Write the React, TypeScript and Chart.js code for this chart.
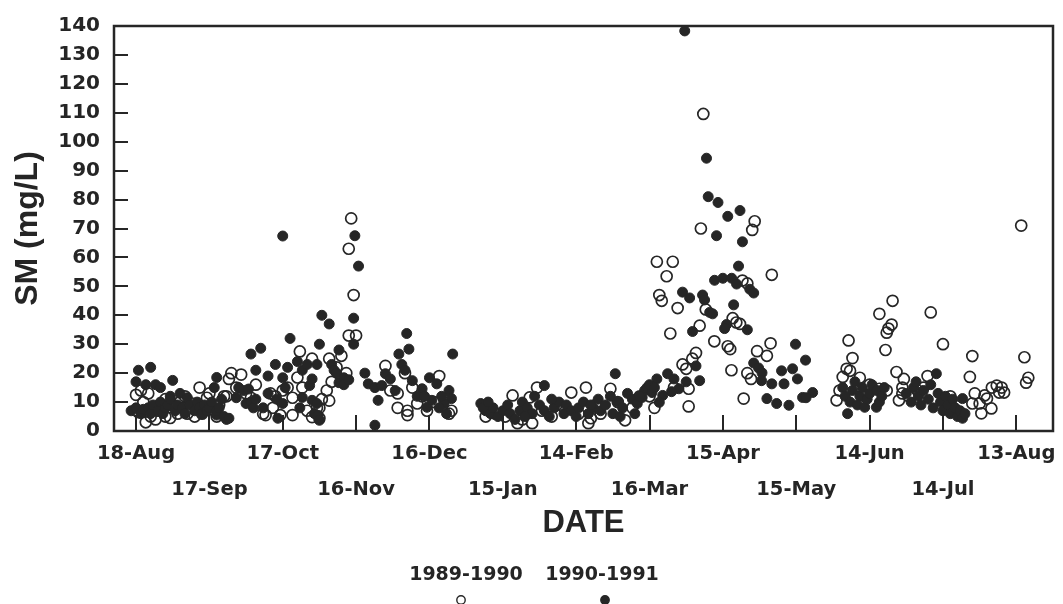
import React, { useEffect, useRef } from 'react';
import { Chart, registerables } from 'chart.js';

Chart.register(...registerables);

// X axis: days since 18-Aug, ticks every 30 days
const tickDays = [0, 30, 60, 90, 120, 150, 180, 210, 240, 270, 300, 330, 360];
const tickLabels = [
  '18-Aug', '17-Sep', '17-Oct', '16-Nov', '16-Dec', '15-Jan', '14-Feb',
  '16-Mar', '15-Apr', '15-May', '14-Jun', '14-Jul', '13-Aug',
];
const seriesLabels = ['1989-1990', '1990-1991'];

// [day, SM mg/L] — 1989-1990 (open circles)
const sm8990: [number, number][] = [
  [0, 12.5], [2, 14], [5, 13], [1, 6.5], [4, 3], [8, 4], [12, 5], [3, 10], [9, 7], [15, 9],
  [17, 6], [20, 12], [21, 6], [23, 9.5], [26, 15], [27, 6], [29, 11.5], [30, 13], [28, 8], [32, 7],
  [34, 9], [12, 11], [19, 8], [24, 5], [36, 12], [6, 5], [14, 4.5], [10, 9], [18, 10], [33, 5],
  [39, 20], [43, 19.5], [38, 18], [41, 15], [45, 13], [47, 11.5], [52, 6], [53, 5.5], [56, 8], [59, 5.5],
  [55, 13], [60, 14], [62, 15], [64, 11.5], [64, 5.5], [67, 27.5], [72, 25], [66, 18.5], [68, 15], [70, 7],
  [72, 4.8], [75, 4.4], [74, 8], [75, 8], [76, 11], [78, 14], [80, 17], [82, 22], [79, 25], [79, 10.5],
  [87, 33], [90, 33], [87, 63], [88, 73.5], [89, 47], [86, 20], [84, 26], [57, 12], [49, 16], [37, 12],
  [102, 22.5], [104, 14], [107, 13], [107, 8], [111, 7], [111, 5.5], [115, 9.5], [124, 19], [119, 7], [128, 6],
  [129, 7], [113, 15], [110, 20], [122, 10], [126, 11], [117, 12],
  [154, 12.3], [156, 2.7], [161, 11.6], [162, 2.7], [164, 15], [170, 5], [175, 8], [178, 13.3], [184, 15], [185, 2.7],
  [186, 4.4], [190, 6], [194, 14.6], [197, 10], [200, 3.7], [203, 8], [147, 6], [151, 5], [158, 4], [166, 7],
  [172, 9], [181, 6], [188, 9], [206, 12], [143, 5],
  [232, 109.6], [231, 70], [253, 72.5], [252, 69.5], [213, 58.5], [219.5, 58.5], [217, 53.5], [260, 54], [214, 47], [215, 45],
  [221.5, 42.5], [248, 52], [250, 51], [233, 42], [244, 39], [245.5, 37.5], [247, 37], [218.5, 33.7], [230.5, 36.4], [236.5, 31],
  [242, 29.3], [243, 28.3], [259.5, 30.3], [229, 27], [227.5, 25], [223.5, 23], [225, 21.5], [254, 27.6], [258, 26], [250, 20],
  [251.5, 18], [243.5, 21], [248.5, 11.2], [226, 14.6], [226, 8.5], [210, 12], [220, 15], [212, 8],
  [287.7, 14], [286.5, 10.6], [289, 18.7], [290.6, 21.5], [292, 20.8], [291.4, 31.3], [293, 25.2], [296, 18.4], [304, 14.6], [307, 14],
  [306.5, 28], [304, 40.5], [309.4, 45], [309, 36.8], [307.7, 35.4], [307, 34], [311, 20.4], [314, 18], [312, 10.6], [313.4, 15],
  [313.4, 13], [325, 41], [330, 30], [323.7, 19], [319.6, 14], [342, 25.9], [341, 18.7], [343, 13], [345, 9.5], [345.7, 6.1],
  [349.8, 7.8], [342, 9.5], [350, 15], [352, 15.7], [354, 15], [353, 13.3], [355, 13.3], [347, 12.3], [348, 11.2], [363.3, 25.5],
  [364.9, 18.4], [364, 16.7], [362, 71], [316, 12], [322, 15], [333, 12], [298, 12], [300, 16], [294, 12],
];

// [day, SM mg/L] — 1990-1991 (filled circles)
const sm9091: [number, number][] = [
  [1, 21], [6, 22], [0, 17], [4, 16], [8, 16], [10, 15], [15, 17.5], [14, 12], [18, 13], [21, 11.5],
  [33, 18.5], [32, 15], [37, 4], [33, 5.5], [-2, 7], [0, 8], [2, 6], [3, 7.5], [5, 8], [6, 6],
  [7, 9], [9, 7], [10, 10], [11, 6], [12, 8], [13, 9], [14, 11], [16, 7], [17, 9], [19, 8],
  [20, 6], [22, 9], [24, 7], [25, 10], [26, 8], [27, 6], [28, 9], [29, 7], [30, 8], [31, 10],
  [33, 7], [34, 8], [35, 11], [36, 5],
  [38, 4.4], [41, 11.5], [42, 15], [44, 14], [46, 14.5], [47, 26.6], [51, 28.6], [49, 21], [45, 9.5], [47, 10],
  [48, 8], [49, 11], [52, 8], [54, 13], [54, 19], [57, 23], [57.5, 11], [58, 4.4], [60, 18.4], [60, 9.5],
  [60, 67.4], [61, 15], [62, 22], [63, 32], [66, 24], [67, 8], [68, 11.6], [68, 21], [70, 23], [71, 15.7],
  [72, 18], [72, 10.6], [73, 6], [74, 23], [74, 9.5], [74.5, 5.4], [75, 3.7], [75, 30], [76, 40], [79, 37],
  [80, 23], [81, 21], [82, 20], [83, 28], [83, 16.7], [85, 18.4], [85, 16], [87, 17.7], [89, 30], [89, 39],
  [91, 57], [89.5, 67.5],
  [93.6, 20], [95, 16.3], [97.7, 15], [99, 10.6], [100.5, 15.7], [97.7, 2], [102, 19.8], [107.5, 26.6], [110.7, 33.7], [111.6, 28.3],
  [108.7, 23], [110, 21], [113, 17.4], [117, 14.6], [119, 8.2], [121, 10.6], [120, 18.4], [123, 16.3], [128, 14], [129, 11.2],
  [126, 9.5], [129.5, 26.6], [104, 18], [106, 14], [115, 12], [124, 8], [127, 6], [118, 12], [125, 12],
  [141, 9.5], [143, 7], [142, 8], [145, 6], [146, 8], [148, 5], [150, 7], [152, 9], [153, 6], [155, 4],
  [157, 7], [158, 10], [160, 8], [162, 6], [163, 12], [165, 9], [167, 15.7], [167, 7], [169, 5], [171, 8],
  [173, 10], [175, 6], [176, 9], [178, 7], [180, 5], [181, 8], [183, 10], [185, 6], [187, 8], [189, 11],
  [190, 7], [192, 9], [194, 12], [196, 19.8], [197, 10], [199, 8], [201, 13], [203, 11], [205, 9.5], [207, 11.6],
  [208, 14], [204, 6], [195, 6], [144, 10], [159, 5], [170, 11], [186, 9], [198, 5],
  [224.4, 138.3], [233.3, 94.3], [234, 81], [238, 79], [242, 74.2], [247, 76.2], [237.4, 67.5], [248, 65.4], [246.4, 57], [236.6, 52.1],
  [240, 52.8], [243.6, 52.8], [245.6, 50.8], [251, 49], [252.6, 47.7], [223.5, 48], [226.4, 46], [231.7, 47], [232.5, 45.3], [234.6, 41],
  [235.8, 40.5], [244.4, 43.6], [241.5, 36.8], [240.7, 35.4], [250, 35], [227.6, 34.4], [269.7, 30], [273.8, 24.5], [229, 22.5], [230.5, 17.4],
  [252.6, 23.5], [254.6, 21.8], [256, 20.1], [264, 20.8], [268.5, 21.5], [255.8, 17.4], [260, 16.3], [265, 16.3], [270.5, 18], [258, 11.2],
  [262, 9.5], [267, 8.9], [272.6, 11.6], [276.7, 13.3], [213, 18], [217.4, 19.8], [209, 15], [211, 13.3], [222, 14.6], [219, 13.6],
  [215.4, 12.3], [214, 9.9], [210, 16], [212, 15], [206, 12], [220, 18], [225, 17], [274, 11.5],
  [289, 15], [290, 12], [291, 6], [292, 10], [293, 14], [294, 17], [295, 9], [296, 12], [297, 15], [298, 8.2],
  [299, 11], [300, 13], [301, 16], [302.8, 8.2], [303, 14], [304, 10], [305, 12], [306, 15], [315, 13], [317, 10],
  [318, 15], [320, 12], [321, 9], [322, 14], [324, 11], [325, 16], [327.3, 19.8], [326, 8], [328, 13], [329, 10],
  [330, 7], [331, 12], [332, 9], [333, 6], [334, 11], [335, 8], [336, 5], [337, 7], [338, 4.4], [338, 11.2],
  [339, 6], [319, 17],
];

const INK = '#262626';
const TEXT = '#252525';

export default function App() {
  const ref = useRef<HTMLCanvasElement>(null);

  useEffect(() => {
    document.body.style.margin = '0';
    const canvas = ref.current;
    if (!canvas) return;

    const framePlugin = {
      id: 'frame',
      beforeDatasetsDraw(chart: any) {
        const { ctx, chartArea: a, scales } = chart;
        ctx.save();
        ctx.strokeStyle = INK;
        ctx.lineWidth = 2;
        ctx.beginPath();
        for (const t of scales.y.ticks) {
          if (t.value <= 0 || t.value >= 140) continue;
          const py = Math.round(scales.y.getPixelForValue(t.value));
          ctx.moveTo(a.left, py);
          ctx.lineTo(a.left + 14, py);
        }
        for (const t of scales.x.ticks) {
          const px = Math.round(scales.x.getPixelForValue(t.value));
          ctx.moveTo(px, a.bottom);
          ctx.lineTo(px, a.bottom - 16);
        }
        ctx.stroke();
        ctx.lineWidth = 2.5;
        ctx.strokeRect(a.left, a.top, a.right - a.left, a.bottom - a.top);
        ctx.restore();
      },
    };

    // Legend: label text above, marker below (as in the original figure)
    const legendPlugin = {
      id: 'bottomLegend',
      afterDraw(chart: any) {
        const { ctx } = chart;
        const items = [
          { text: seriesLabels[0], x: 466, mx: 461, filled: false },
          { text: seriesLabels[1], x: 602, mx: 605, filled: true },
        ];
        ctx.save();
        ctx.font = 'bold 19px "DejaVu Sans"';
        ctx.textAlign = 'center';
        ctx.textBaseline = 'middle';
        items.forEach((it) => {
          ctx.fillStyle = TEXT;
          ctx.fillText(it.text, it.x, 575);
          ctx.beginPath();
          ctx.arc(it.mx, 600, 4.2, 0, Math.PI * 2);
          ctx.lineWidth = 1.4;
          ctx.strokeStyle = INK;
          if (it.filled) {
            ctx.fillStyle = INK;
            ctx.fill();
          }
          ctx.stroke();
        });
        ctx.restore();
      },
    };

    const chart = new Chart(canvas, {
      type: 'scatter',
      data: {
        datasets: [
          {
            label: seriesLabels[1],
            data: sm9091.map(([x, y]) => ({ x, y })),
            pointStyle: 'circle',
            pointRadius: 5,
            pointBorderWidth: 1,
            pointBackgroundColor: INK,
            pointBorderColor: INK,
            showLine: false,
          },
          {
            label: seriesLabels[0],
            data: sm8990.map(([x, y]) => ({ x, y })),
            pointStyle: 'circle',
            pointRadius: 5.5,
            pointBorderWidth: 1.7,
            pointBackgroundColor: 'rgba(255,255,255,0)',
            pointBorderColor: INK,
            showLine: false,
          },
        ],
      },
      options: {
        responsive: false,
        maintainAspectRatio: false,
        animation: false,
        layout: { padding: { top: 19, right: 10, bottom: 0, left: 0 } },
        plugins: { legend: { display: false }, tooltip: { enabled: false } },
        scales: {
          x: {
            type: 'linear',
            min: -9,
            max: 375,
            afterBuildTicks: (s: any) => {
              s.ticks = tickDays.map((v) => ({ value: v }));
            },
            afterFit: (s: any) => {
              s.height = 173;
            },
            grid: { display: false, drawTicks: false },
            border: { display: false },
            ticks: {
              autoSkip: false,
              maxRotation: 0,
              minRotation: 0,
              padding: 5,
              color: TEXT,
              font: { family: 'DejaVu Sans', weight: 'bold', size: 19.5, lineHeight: 1.846 },
              callback: (v: any) => {
                const i = tickDays.indexOf(Number(v));
                const l = tickLabels[i] ?? '';
                return i % 2 === 0 ? l : ['', l];
              },
            },
            title: {
              display: true,
              text: 'DATE',
              color: TEXT,
              font: { family: 'Liberation Sans', weight: 'bold', size: 31 },
              padding: { top: 0, bottom: 62 },
            },
          },
          y: {
            min: 0,
            max: 140,
            afterFit: (s: any) => {
              s.width = 114;
            },
            grid: { display: false, drawTicks: false },
            border: { display: false },
            ticks: {
              stepSize: 10,
              padding: 14,
              color: TEXT,
              font: { family: 'DejaVu Sans', weight: 'bold', size: 20 },
            },
            title: {
              display: true,
              text: 'SM (mg/L)',
              color: TEXT,
              font: { family: 'Liberation Sans', weight: 'bold', size: 32 },
              padding: { top: 9, bottom: 0 },
            },
          },
        },
      },
      plugins: [framePlugin, legendPlugin],
    });

    return () => chart.destroy();
  }, []);

  return (
    <canvas
      ref={ref}
      width={1063}
      height={604}
      style={{ display: 'block', width: '1063px', height: '604px' }}
    />
  );
}
